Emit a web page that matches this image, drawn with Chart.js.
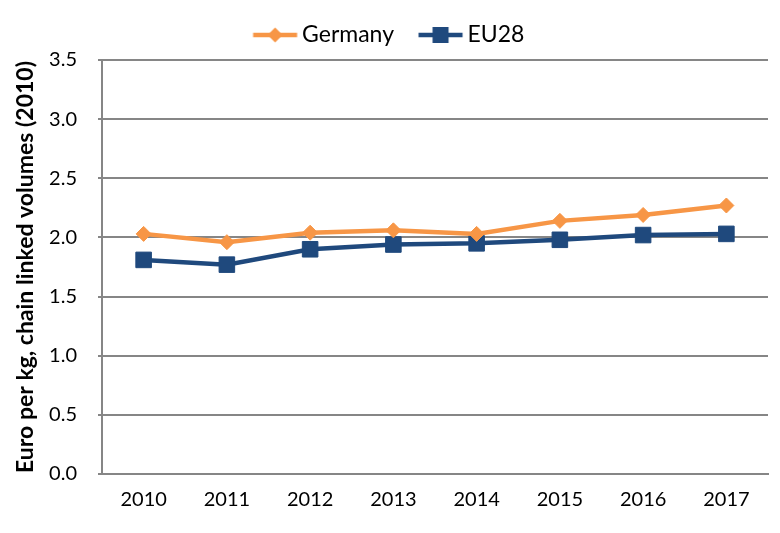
<!DOCTYPE html>
<html lang="en">
<head>
    <meta charset="UTF-8">
    <title>Euro per kg</title>
    <script src="https://cdn.jsdelivr.net/npm/chart.js"></script>
    <style>
        html, body { margin: 0; padding: 0; background: #fff; }
        #wrap { width: 780px; height: 533px; }
    </style>
</head>
<body>
    <div id="wrap"><canvas id="chart" width="780" height="533"></canvas></div>

    <script>
        const years = ['2010', '2011', '2012', '2013', '2014', '2015', '2016', '2017'];
        const germany = [2.03, 1.96, 2.04, 2.06, 2.03, 2.14, 2.19, 2.27];
        const eu28 = [1.81, 1.77, 1.90, 1.94, 1.95, 1.98, 2.02, 2.03];
        const yTicks = [0, 0.5, 1.0, 1.5, 2.0, 2.5, 3.0, 3.5];

        const orange = '#F79646';
        const navy = '#1F497D';
        const grey = '#868686';

        // line+marker picture for the legend; drawn a bit to the right of centre
        // so the gap to the text is as narrow as in the original
        function legendIcon(color, shape) {
            const c = document.createElement('canvas');
            c.width = 62; c.height = 20;
            const g = c.getContext('2d');
            const a = 15.5, m = a + 22;
            g.strokeStyle = color;
            g.lineWidth = 4.5;
            g.beginPath(); g.moveTo(a, 10); g.lineTo(a + 44, 10); g.stroke();
            g.fillStyle = color;
            if (shape === 'diamond') {
                g.beginPath();
                g.moveTo(m, 2.5); g.lineTo(m + 7.5, 10); g.lineTo(m, 17.5); g.lineTo(m - 7.5, 10);
                g.closePath(); g.fill();
            } else {
                g.fillRect(m - 8, 2, 16, 16);
            }
            return c;
        }

        Chart.defaults.font.family = 'Lato, "Noto Sans", sans-serif';
        Chart.defaults.color = '#000';

        new Chart(document.getElementById('chart').getContext('2d'), {
            type: 'line',
            data: {
                labels: years,
                datasets: [
                    { label: 'Germany', data: germany, borderColor: orange, backgroundColor: orange,
                      borderWidth: 4.5, pointStyle: 'rectRot', pointRadius: 7.5, pointHoverRadius: 7.5,
                      pointBorderWidth: 1, tension: 0 },
                    { label: 'EU28', data: eu28, borderColor: navy, backgroundColor: navy,
                      borderWidth: 4.5, pointStyle: 'rect', pointRadius: 11, pointHoverRadius: 11,
                      pointBorderWidth: 1, tension: 0 }
                ]
            },
            options: {
                responsive: false,
                animation: false,
                layout: { padding: { left: 0, right: 9, top: 5.5, bottom: 0 } },
                plugins: {
                    tooltip: { enabled: false },
                    legend: {
                        position: 'top',
                        labels: {
                            usePointStyle: true,
                            pointStyleWidth: 44,
                            padding: 18,
                            font: { size: 23 },
                            generateLabels: (chart) => chart.data.datasets.map((ds, i) => ({
                                text: ds.label,
                                datasetIndex: i,
                                pointStyle: legendIcon(ds.borderColor, i === 0 ? 'diamond' : 'square'),
                                fillStyle: ds.borderColor,
                                strokeStyle: ds.borderColor,
                                lineWidth: 0
                            }))
                        }
                    }
                },
                scales: {
                    x: {
                        offset: true,
                        grid: { display: false, drawTicks: false },
                        border: { color: grey, width: 2 },
                        ticks: { font: { size: 20 }, padding: 14 },
                        afterFit: (s) => { s.height = 59; }
                    },
                    // empty strip between legend and plot
                    xTop: {
                        type: 'category',
                        position: 'top',
                        offset: true,
                        grid: { display: false, drawTicks: false },
                        border: { display: false },
                        ticks: { display: false },
                        afterFit: (s) => { s.height = 3.5; }
                    },
                    y: {
                        min: 0, max: 3.5,
                        afterBuildTicks: (s) => { s.ticks = yTicks.map(v => ({ value: v })); },
                        grid: { color: grey, lineWidth: 2, tickLength: 4 },
                        border: { color: grey, width: 2 },
                        ticks: { font: { size: 20 }, padding: 21, callback: (v) => Number(v).toFixed(1) },
                        title: {
                            display: true,
                            text: 'Euro per kg, chain linked volumes (2010)',
                            font: { size: 23, weight: 'bold' },
                            padding: { top: 12, bottom: 0 }
                        },
                        afterFit: (s) => { s.width = 102; }
                    }
                }
            }
        });
    </script>
</body>
</html>
